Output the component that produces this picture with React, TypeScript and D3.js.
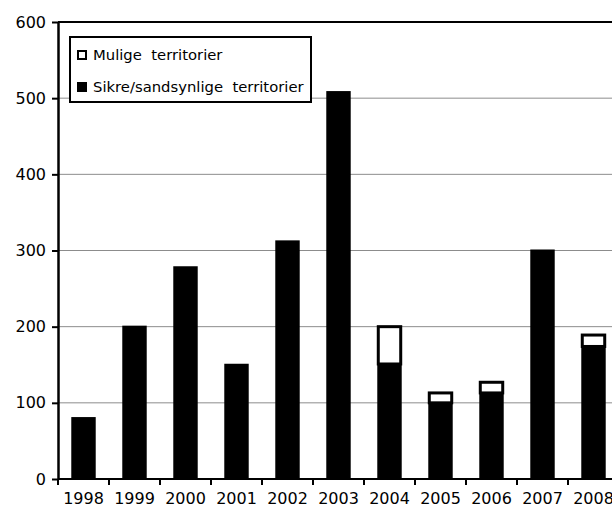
import React, { useEffect, useRef } from 'react';
import * as d3 from 'd3';

const years = ['1998', '1999', '2000', '2001', '2002', '2003', '2004', '2005', '2006', '2007', '2008'];
const sikre = [80, 200, 278, 150, 312, 508, 151, 100, 113, 300, 174];
const mulige = [0, 0, 0, 0, 0, 0, 49, 13, 14, 0, 15];
const yTicks = [0, 100, 200, 300, 400, 500, 600];
const legendLabels = ['Mulige  territorier', 'Sikre/sandsynlige  territorier'];

const W = 612;
const H = 512;
const FONT = 'Verdana, "DejaVu Sans", sans-serif';

const App: React.FC = () => {
  const svgRef = useRef<SVGSVGElement>(null);

  useEffect(() => {
    if (!svgRef.current) return;
    const svg = d3.select(svgRef.current);
    svg.selectAll('*').remove();

    const left = 58, top = 22, bottom = 479, right = 619;

    const x = d3.scaleBand().domain(years).range([left, right]).paddingInner(0.56).paddingOuter(0.28);
    const y = d3.scaleLinear().domain([0, 600]).range([bottom, top]);

    // gridlines
    svg.append('g')
      .selectAll('line')
      .data(yTicks.filter(t => t > 0 && t < 600))
      .enter()
      .append('line')
      .attr('x1', left).attr('x2', W)
      .attr('y1', d => y(d)).attr('y2', d => y(d))
      .attr('stroke', '#8c8c8c').attr('stroke-width', 1);

    // top frame line
    svg.append('line')
      .attr('x1', left).attr('x2', W)
      .attr('y1', y(600)).attr('y2', y(600))
      .attr('stroke', '#000').attr('stroke-width', 2);

    // bars: black part
    svg.append('g')
      .selectAll('rect')
      .data(years)
      .enter()
      .append('rect')
      .attr('x', d => x(d)!)
      .attr('width', x.bandwidth())
      .attr('y', (_, i) => y(sikre[i]))
      .attr('height', (_, i) => bottom - y(sikre[i]))
      .attr('fill', '#000')
      .attr('stroke', '#000').attr('stroke-width', 2);

    // bars: white part stacked on top
    svg.append('g')
      .selectAll('rect')
      .data(years.filter((_, i) => mulige[i] > 0))
      .enter()
      .append('rect')
      .attr('x', d => x(d)!)
      .attr('width', x.bandwidth())
      .attr('y', d => { const i = years.indexOf(d); return y(sikre[i] + mulige[i]); })
      .attr('height', d => { const i = years.indexOf(d); return y(sikre[i]) - y(sikre[i] + mulige[i]); })
      .attr('fill', '#fff')
      .attr('stroke', '#000').attr('stroke-width', 3);

    // y axis
    const yAxis = svg.append('g')
      .attr('transform', `translate(${left},0)`)
      .call(d3.axisLeft(y).tickValues(yTicks).tickSize(6).tickPadding(6).tickSizeOuter(0));
    yAxis.select('.domain').attr('stroke', '#000').attr('stroke-width', 2.5);
    yAxis.selectAll('.tick line').attr('stroke', '#000').attr('stroke-width', 2);
    yAxis.selectAll('.tick text')
      .attr('font-family', FONT).attr('font-size', 16).attr('fill', '#000');

    // x axis baseline
    svg.append('line')
      .attr('x1', left).attr('x2', W)
      .attr('y1', bottom).attr('y2', bottom)
      .attr('stroke', '#000').attr('stroke-width', 2);

    // x tick marks at band boundaries
    const step = x.step();
    const bounds = d3.range(years.length + 1).map(i => left + i * step);
    svg.append('g')
      .selectAll('line')
      .data(bounds)
      .enter()
      .append('line')
      .attr('x1', d => d).attr('x2', d => d)
      .attr('y1', bottom).attr('y2', bottom + 6)
      .attr('stroke', '#000').attr('stroke-width', 2);

    // x labels
    svg.append('g')
      .selectAll('text')
      .data(years)
      .enter()
      .append('text')
      .attr('x', d => x(d)! + x.bandwidth() / 2)
      .attr('y', 504)
      .attr('text-anchor', 'middle')
      .attr('font-family', FONT).attr('font-size', 16)
      .text(d => d);

    // legend
    const lg = svg.append('g');
    lg.append('rect')
      .attr('x', 70).attr('y', 37).attr('width', 241).attr('height', 65)
      .attr('fill', '#fff').attr('stroke', '#000').attr('stroke-width', 2);
    legendLabels.forEach((lab, i) => {
      const cy = 55 + i * 32;
      lg.append('rect')
        .attr('x', 78).attr('y', cy - 4).attr('width', 8).attr('height', 8)
        .attr('fill', i === 0 ? '#fff' : '#000')
        .attr('stroke', '#000').attr('stroke-width', 2);
      lg.append('text')
        .attr('x', 93).attr('y', cy + 5)
        .attr('font-family', FONT).attr('font-size', 14.8)
        .attr('xml:space', 'preserve')
        .style('white-space', 'pre')
        .text(lab);
    });
  }, []);

  return (
    <svg
      ref={svgRef}
      width={W}
      height={H}
      style={{ position: 'absolute', left: 0, top: 0, background: '#fff' }}
    />
  );
};

export default App;
